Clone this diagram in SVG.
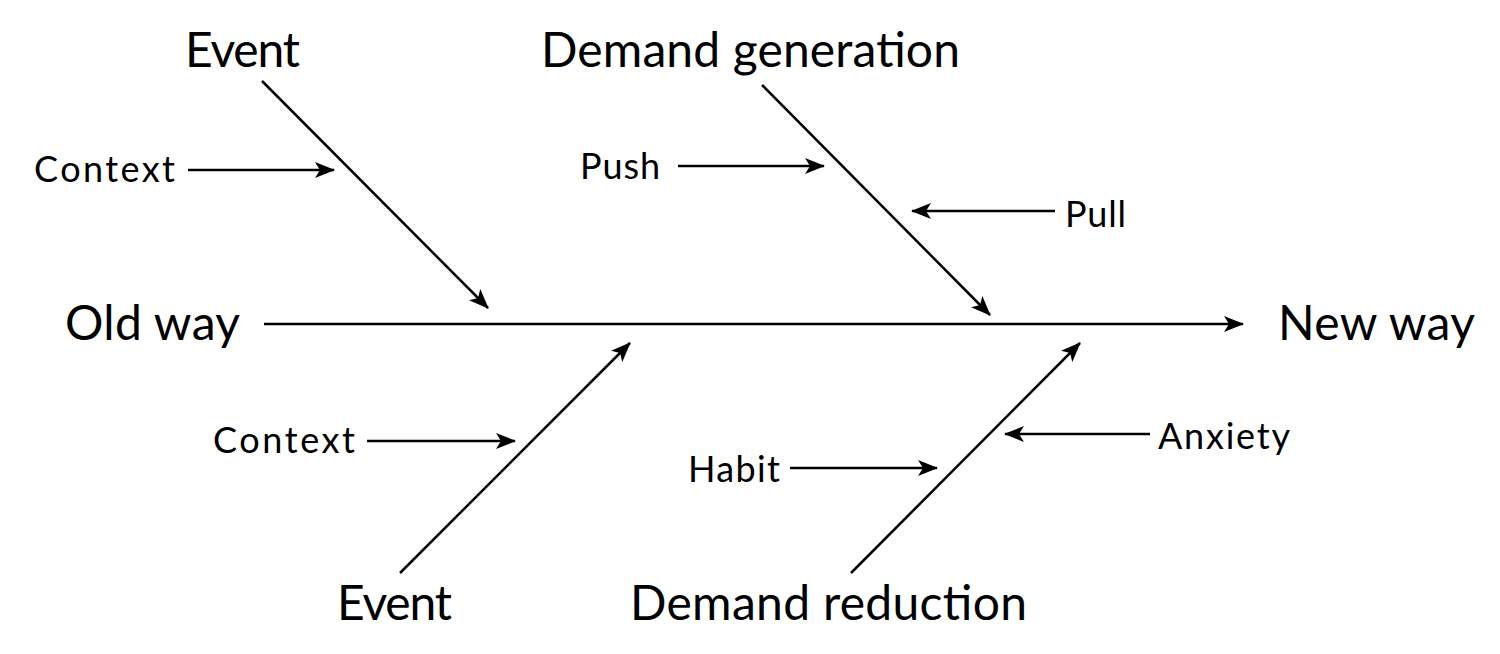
<svg xmlns="http://www.w3.org/2000/svg" width="1500" height="654" viewBox="0 0 1500 654">
<defs>
<marker id="ah" viewBox="0 0 20 16" refX="19" refY="8" markerWidth="20" markerHeight="16" markerUnits="userSpaceOnUse" orient="auto">
<path d="M0,0 L20,8 L0,16 L5,8 z" fill="#000"/>
</marker>
</defs>
<style>
.big{font-family:Lato,"Open Sans",sans-serif;font-size:48px;fill:#000}
.small{font-family:Lato,"Open Sans",sans-serif;font-size:36px;fill:#000}
.ln{stroke:#000;stroke-width:2.5;fill:none;marker-end:url(#ah)}
</style>
<rect width="1500" height="654" fill="#fff"/>
<g id="connectors">
<line class="ln" x1="264" y1="324" x2="1243" y2="324"/>
<line class="ln" x1="262" y1="81" x2="488" y2="308"/>
<line class="ln" x1="762" y1="85" x2="990" y2="315"/>
<line class="ln" x1="400" y1="573" x2="630" y2="343"/>
<line class="ln" x1="851" y1="573" x2="1080" y2="343"/>
<line class="ln" x1="188" y1="170" x2="334" y2="170"/>
<line class="ln" x1="678" y1="166" x2="824" y2="166"/>
<line class="ln" x1="1055" y1="211" x2="912" y2="211"/>
<line class="ln" x1="367" y1="441" x2="515" y2="441"/>
<line class="ln" x1="790" y1="468" x2="937" y2="468"/>
<line class="ln" x1="1150" y1="434" x2="1005" y2="434"/>
</g>
<g id="old-way"><text class="big" x="65" y="340" textLength="175" lengthAdjust="spacing">Old way</text></g>
<g id="new-way"><text class="big" x="1278" y="340" textLength="197" lengthAdjust="spacing">New way</text></g>
<g id="event-top"><text class="big" x="185" y="67" textLength="115" lengthAdjust="spacing">Event</text></g>
<g id="demand-generation"><text class="big" x="541" y="67" textLength="419" lengthAdjust="spacing">Demand generation</text></g>
<g id="event-bottom"><text class="big" x="337" y="620" textLength="115" lengthAdjust="spacing">Event</text></g>
<g id="demand-reduction"><text class="big" x="630" y="620" textLength="397" lengthAdjust="spacing">Demand reduction</text></g>
<g id="context-top"><text class="small" x="34" y="182" textLength="141" lengthAdjust="spacing">Context</text></g>
<g id="push"><text class="small" x="580" y="179" textLength="80" lengthAdjust="spacing">Push</text></g>
<g id="pull"><text class="small" x="1065" y="227" textLength="61" lengthAdjust="spacing">Pull</text></g>
<g id="context-bottom"><text class="small" x="213" y="453" textLength="142" lengthAdjust="spacing">Context</text></g>
<g id="habit"><text class="small" x="688" y="482" textLength="92" lengthAdjust="spacing">Habit</text></g>
<g id="anxiety"><text class="small" x="1158" y="449" textLength="132" lengthAdjust="spacing">Anxiety</text></g>
</svg>
